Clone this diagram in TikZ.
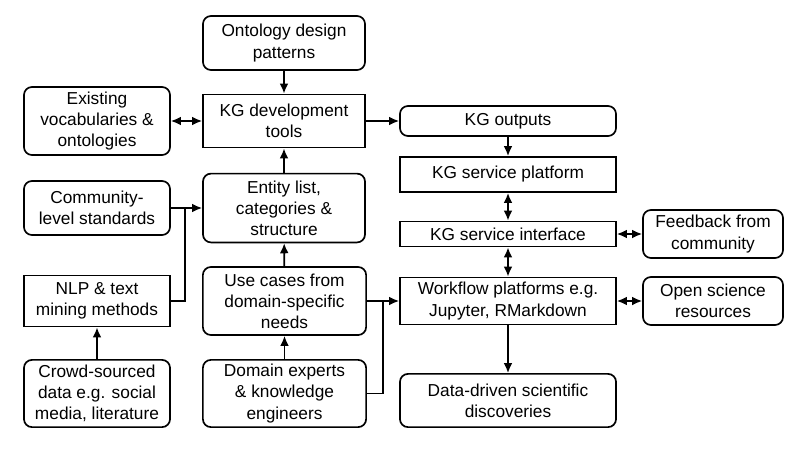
\documentclass[tikz,border=0pt]{standalone}
\usepackage{fontspec}
\setmainfont{Liberation Sans}
\usetikzlibrary{arrows.meta}

\tikzset{
  box/.style={draw, line width=1.2pt, align=center, inner sep=1pt,
    font=\fontsize{12.3}{15}\selectfont},
  rbox/.style={box, rounded corners=0.2cm},
  sbox/.style={box},
  arr/.style={line width=1.2pt, -{Latex[length=0.25cm,width=0.22cm]}},
  darr/.style={line width=1.2pt, {Latex[length=0.25cm,width=0.22cm]}-{Latex[length=0.25cm,width=0.22cm]}},
  lin/.style={line width=1.2pt}
}

\begin{document}
\begin{tikzpicture}[x=0.025cm, y=-0.025cm]
  \useasboundingbox (0,0) rectangle (800,448);
  % middle column
  \node[rbox, minimum width=4.05cm, minimum height=1.35cm] (ont) at (284,43) {Ontology design\\patterns};
  \node[sbox, minimum width=4.05cm, minimum height=1.33cm] (dev) at (284,121) {KG development\\tools};
  \node[rbox, minimum width=4.05cm, minimum height=1.72cm] (ent) at (284,208) {Entity list,\\categories \&\\structure};
  \node[rbox, minimum width=4.08cm, minimum height=1.7cm] (use) at (284.5,301) {Use cases from\\domain-specific\\needs};
  \node[rbox, minimum width=4.08cm, minimum height=1.68cm] (dom) at (284.5,393.5) {Domain experts\\\& knowledge\\engineers};
  % left column
  \node[rbox, minimum width=3.65cm, minimum height=1.7cm] (vocab) at (97,121) {Existing\\vocabularies \&\\ontologies};
  \node[rbox, minimum width=3.65cm, minimum height=1.35cm] (comm) at (97,208) {Community-\\level standards};
  \node[sbox, minimum width=3.65cm, minimum height=1.28cm] (nlp) at (97,301) {NLP \& text\\mining methods};
  \node[rbox, minimum width=3.65cm, minimum height=1.68cm] (crowd) at (97,393.5) {Crowd-sourced\\data e.g. social\\media, literature};
  % right columns
  \node[rbox, minimum width=5.4cm, minimum height=0.75cm] (out) at (508,121) {KG outputs};
  \node[sbox, minimum width=5.4cm, minimum height=0.88cm] (plat) at (508,174.5) {KG service platform};
  \node[sbox, minimum width=5.4cm, minimum height=0.63cm] (intf) at (508,234) {KG service interface};
  \node[sbox, minimum width=5.4cm, minimum height=1.18cm] (work) at (508,301) {Workflow platforms e.g.\\Jupyter, RMarkdown};
  \node[rbox, minimum width=5.4cm, minimum height=1.33cm] (disc) at (508,400.5) {Data-driven scientific\\discoveries};
  \node[rbox, minimum width=3.5cm, minimum height=1.2cm] (feed) at (713,234) {Feedback from\\community};
  \node[rbox, minimum width=3.5cm, minimum height=1.2cm] (open) at (713,301) {Open science\\resources};
  % joins
  \coordinate (j1) at (185,208);
  \coordinate (j2) at (383,301);
  % connectors
  \draw[arr] (ont) -- (dev);
  \draw[darr] (vocab) -- (dev);
  \draw[arr] (dev) -- (out);
  \draw[arr] (out) -- (plat);
  \draw[darr] (plat) -- (intf);
  \draw[darr] (intf) -- (feed);
  \draw[darr] (intf) -- (work);
  \draw[darr] (work) -- (open);
  \draw[arr] (work) -- (disc);
  \draw[arr] (ent) -- (dev);
  \draw[arr] (comm) -- (ent);
  \draw[lin] (nlp.east) -| (j1);
  \draw[arr] (use) -- (ent);
  \draw[arr] (dom) -- (use);
  \draw[arr] (crowd) -- (nlp);
  \draw[arr] (use) -- (work);
  \draw[lin] (dom.east) -| (j2);
\end{tikzpicture}
\end{document}
